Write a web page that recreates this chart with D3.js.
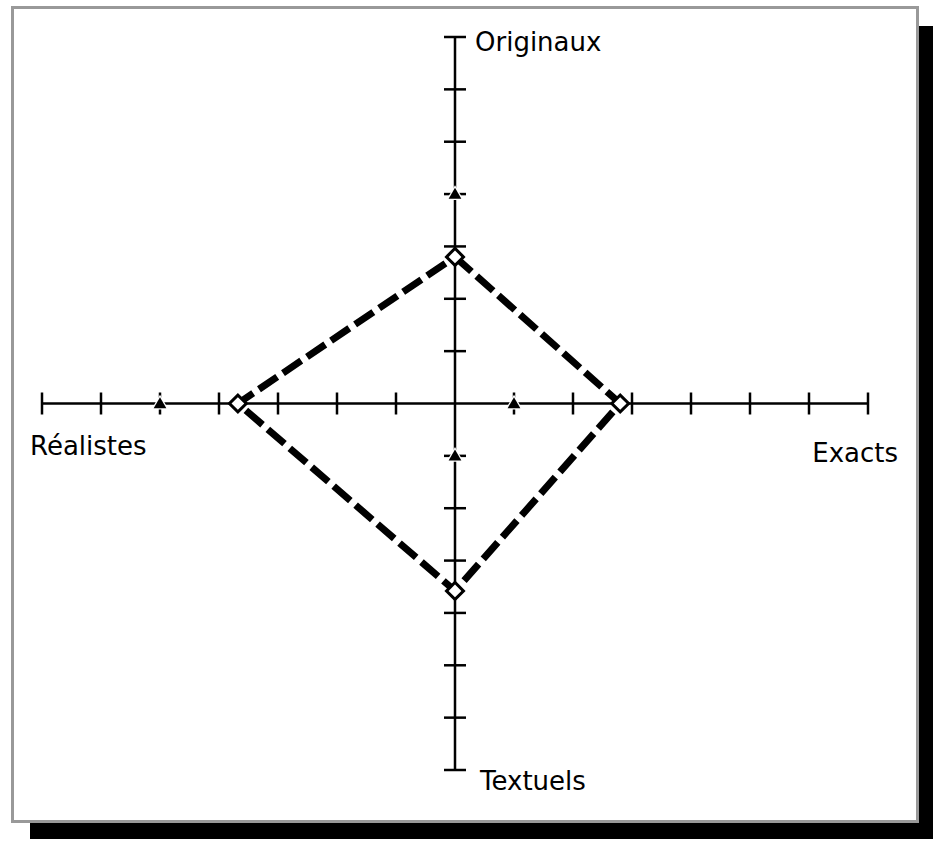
<!DOCTYPE html>
<html lang="fr">
  <head>
    <meta charset="utf-8">
    <title>Diagramme en étoile</title>
    <script type="text/javascript" src="https://d3js.org/d3.v7.min.js"></script>
    <style type="text/css">
      body { margin: 0; background: white; }
      .axis line { stroke: black; stroke-width: 2.5; }
      .lbl { font-family: "DejaVu Sans", sans-serif; font-size: 26px; fill: black; }
    </style>
  </head>
  <body>
    <script type="text/javascript">
      var w = 933;
      var h = 841;

      // axes: haut, droite, bas, gauche
      var axes = ["Originaux", "Exacts", "Textuels", "Réalistes"];
      var tickValues = [1, 2, 3, 4, 5, 6, 7];
      // series, same order as axes
      var seriesDiamond = [2.8, 2.8, 3.58, 3.68];
      var seriesTriangle = [4, 1, 1, 5];

      var svg = d3.select("body").append("svg")
        .attr("width", w).attr("height", h);

      // shadow and frame
      svg.append("rect").attr("x", 30).attr("y", 26).attr("width", 903).attr("height", 813).attr("fill", "black");
      svg.append("rect").attr("x", 12.5).attr("y", 7.5).attr("width", 905).attr("height", 814)
        .attr("fill", "white").attr("stroke", "#999").attr("stroke-width", 3);

      var xScale = d3.scaleLinear().domain([-7, 7]).range([42, 868]);
      var yScale = d3.scaleLinear().domain([-7, 7]).range([770, 37]);

      // position of value v on axis i
      function pos(i, v) {
        if (i == 0) return [xScale(0), yScale(v)];
        if (i == 1) return [xScale(v), yScale(0)];
        if (i == 2) return [xScale(0), yScale(-v)];
        return [xScale(-v), yScale(0)];
      }

      var g = svg.append("g").attr("class", "axis");
      g.append("line").attr("x1", xScale(-7)).attr("x2", xScale(7)).attr("y1", yScale(0)).attr("y2", yScale(0));
      g.append("line").attr("x1", xScale(0)).attr("x2", xScale(0)).attr("y1", yScale(-7)).attr("y2", yScale(7));

      var tk = 11;
      var all = tickValues.concat(tickValues.map(function(d){ return -d; }));
      g.selectAll(".tx").data(all).enter().append("line")
        .attr("x1", function(d){ return xScale(d); }).attr("x2", function(d){ return xScale(d); })
        .attr("y1", yScale(0) - tk).attr("y2", yScale(0) + tk);
      g.selectAll(".ty").data(all).enter().append("line")
        .attr("y1", function(d){ return yScale(d); }).attr("y2", function(d){ return yScale(d); })
        .attr("x1", xScale(0) - tk).attr("x2", xScale(0) + tk);

      // dashed polygon
      var pts = seriesDiamond.map(function(v, i){ return pos(i, v); });
      svg.append("path")
        .attr("d", d3.line()(pts.concat([pts[0]])))
        .attr("fill", "none").attr("stroke", "black").attr("stroke-width", 7)
        .attr("stroke-dasharray", "22,7");

      // triangles
      svg.selectAll(".tri").data(seriesTriangle).enter().append("path")
        .attr("d", d3.symbol().type(d3.symbolTriangle).size(70))
        .attr("transform", function(d, i){ var p = pos(i, d); return "translate(" + p[0] + "," + (p[1] + 1) + ")"; })
        .attr("fill", "black").attr("stroke", "white").attr("stroke-width", 2.5).attr("paint-order", "stroke");

      // diamonds
      svg.selectAll(".dia").data(seriesDiamond).enter().append("rect")
        .attr("x", -6).attr("y", -6).attr("width", 12).attr("height", 12)
        .attr("transform", function(d, i){ var p = pos(i, d); return "translate(" + p[0] + "," + p[1] + ") rotate(45)"; })
        .attr("fill", "white").attr("stroke", "black").attr("stroke-width", 3);

      // labels
      var lblPos = [[475, 51, "start"], [898, 462, "end"], [480, 790, "start"], [30, 455, "start"]];
      svg.selectAll(".lbl").data(axes).enter().append("text")
        .attr("class", "lbl")
        .attr("x", function(d, i){ return lblPos[i][0]; })
        .attr("y", function(d, i){ return lblPos[i][1]; })
        .attr("text-anchor", function(d, i){ return lblPos[i][2]; })
        .text(function(d){ return d; });
    </script>
  </body>
</html>
